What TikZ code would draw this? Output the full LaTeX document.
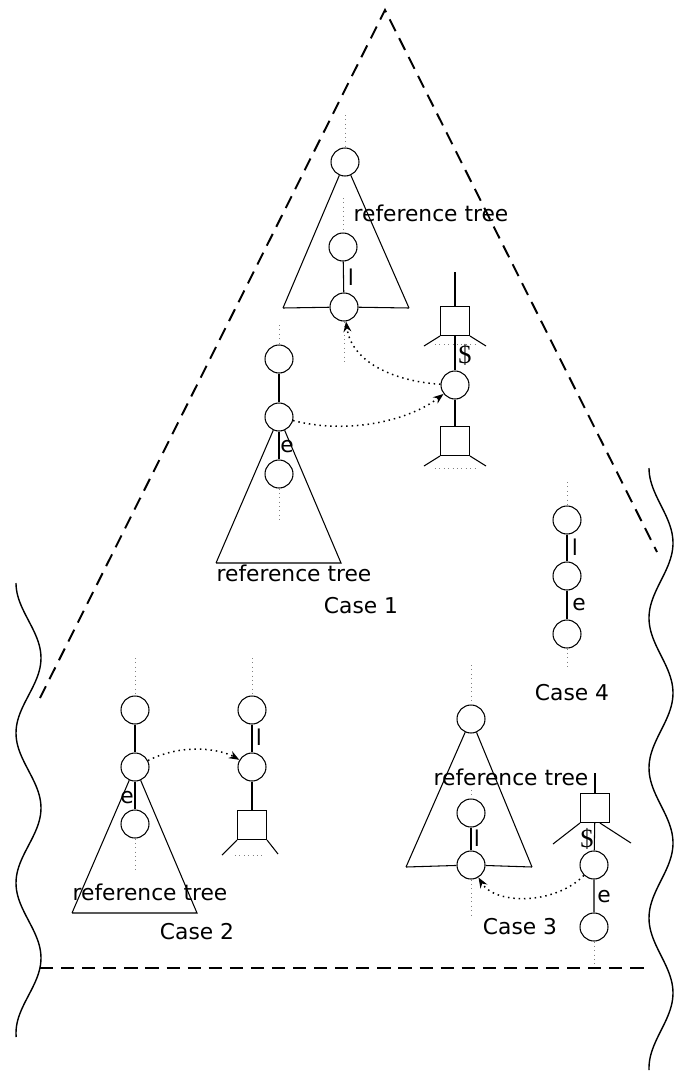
\documentclass[tikz,border=0pt]{standalone}
\usepackage{fontspec}
\setmainfont{DejaVu Sans}
\newfontfamily\dollarfont{Liberation Serif}
\usetikzlibrary{arrows.meta,positioning}

\begin{document}
\begin{tikzpicture}[x=0.02cm,y=-0.02cm,
	vert/.style={circle,draw,line width=0.6pt,minimum size=0.56cm,inner sep=0pt},
	leaf/.style={rectangle,draw,line width=0.6pt,minimum size=0.58cm,inner sep=0pt},
	link/.style={line width=0.6pt},
	guide/.style={line width=0.45pt,gray,dash pattern=on 0.5pt off 2pt},
	ptr/.style={line width=0.85pt,dash pattern=on 0.85pt off 2.2pt,-{Stealth[length=6pt,width=4.5pt]}},
	hull/.style={line width=1.1pt,dash pattern=on 7.5pt off 4.5pt},
	wave/.style={line width=0.8pt},
	dol/.style={font=\dollarfont\fontsize{15}{17}\selectfont}]
	\tikzstyle{every node}=[font=\fontsize{12.4}{15}\selectfont]
	\useasboundingbox (0,0) rectangle (687,1072);
	% outer frame
	\draw [hull] (40,698) -- (385,10) -- (657,552);
	\draw [hull] (40,968) -- (650,968);
	\draw [wave] plot[domain=583:1037,samples=140,smooth] ({28.5-12.5*cos(2.4*(\x-583))},\x);
	\draw [wave] plot[domain=468:1070,samples=180,smooth] ({661-12*cos(2.4*(\x-468))},\x);
	% Case 1: upper reference tree
	\node [vert] (A) at (345,162) {};
	\node [vert] (B) at (343,247) {};
	\node [vert] (C) at (344,307) {};
	\draw [link] (283,308) -- (A) -- (409,308);
	\draw [link] (283,308) -- (C) -- (409,308);
	\draw [link] (B) -- (C);
	\draw [guide] (345,115) -- (A);
	\draw [guide] (343,198) -- (B);
	\draw [guide] (C) -- (344,362);
	\node (lblA) at (351,277) {l};
	\node (refA) at (431,213) {reference tree};
	% Case 1: lower reference tree
	\node [vert] (D) at (279,359) {};
	\node [vert] (E) at (279,417) {};
	\node [vert] (F) at (279,474) {};
	\draw [link] (216,563) -- (E) -- (341,563) -- (216,563);
	\draw [link] (D) -- (E) -- (F);
	\draw [guide] (279,325) -- (D);
	\draw [guide] (F) -- (279,520);
	\node (lblE) at (287,447) {e};
	\node (refE) at (294,573) {reference tree};
	% Case 1: $ chain
	\node [leaf] (Q1) at (455,321) {};
	\node [vert] (G) at (455,385) {};
	\node [leaf] (Q2) at (455,441) {};
	\draw [link] (Q1.north) -- ++(0,-34);
	\draw [link] (Q1) -- (G) -- (Q2);
	\draw [link] (Q1.south west) -- ++(-16,10);
	\draw [link] (Q1.south east) -- ++(16,10);
	\draw [guide] (Q1.south west) ++(-5,8) -- ++(40,0);
	\draw [link] (Q2.south west) -- ++(-16,10);
	\draw [link] (Q2.south east) -- ++(16,10);
	\draw [guide] (Q2.south west) ++(-5,12) -- ++(40,0);
	\node [dol] (dolG) at (465,355) {\$};
	\draw [ptr] (G) .. controls (400,382) and (352,365) .. (C);
	\draw [ptr] (E) .. controls (350,435) and (410,420) .. (G);
	\node (case1) at (361,606) {Case 1};
	% Case 2
	\node [vert] (H) at (135,710) {};
	\node [vert] (I) at (135,767) {};
	\node [vert] (J) at (135,824) {};
	\draw [link] (72,913) -- (I) -- (197,913) -- (72,913);
	\draw [link] (H) -- (I) -- (J);
	\draw [guide] (135,658) -- (H);
	\draw [guide] (J) -- (135,872);
	\node (lblI) at (127,798) {e};
	\node (refI) at (150,892) {reference tree};
	\node [vert] (K) at (252,710) {};
	\node [vert] (L) at (252,767) {};
	\node [leaf] (Q3) at (252,825) {};
	\draw [link] (K) -- (L) -- (Q3);
	\draw [guide] (252,658) -- (K);
	\draw [link] (Q3.south west) -- ++(-15,15);
	\draw [link] (Q3.south east) -- ++(11,14);
	\draw [guide] (Q3.south west) ++(-2,15) -- ++(27,0);
	\node (lblK) at (259,737) {l};
	\draw [ptr] (I) .. controls (185,742) and (222,750) .. (L);
	\node (case2) at (197,932) {Case 2};
	% Case 3
	\node [vert] (M) at (471,719) {};
	\node [vert] (N) at (471,813) {};
	\node [vert] (O) at (471,865) {};
	\draw [link] (406,867) -- (M) -- (532,867);
	\draw [link] (406,867) -- (O) -- (532,867);
	\draw [link] (N) -- (O);
	\draw [guide] (471,665) -- (M);
	\draw [guide] (471,790) -- (N);
	\draw [guide] (O) -- (471,917);
	\node (lblN) at (477,838) {l};
	\node (refM) at (511,777) {reference tree};
	\node [leaf] (Q4) at (595,808) {};
	\node [vert] (P) at (594,865) {};
	\node [vert] (Q) at (594,927) {};
	\draw [link] (Q4.north) -- ++(0,-20);
	\draw [link] (Q4) -- (P) -- (Q);
	\draw [link] (Q4.south west) -- ++(-27,21);
	\draw [link] (Q4.south west) ++(20,0) -- ++(31,20);
	\draw [guide] (Q) -- (594,965);
	\node [dol] (dolP) at (587,839) {\$};
	\node (lblP) at (604,897) {e};
	\draw [ptr] (P) .. controls (555,905) and (495,905) .. (O);
	\node (case3) at (520,927) {Case 3};
	% Case 4
	\node [vert] (R) at (567,520) {};
	\node [vert] (S) at (567,576) {};
	\node [vert] (T) at (567,634) {};
	\draw [link] (R) -- (S) -- (T);
	\draw [guide] (567,482) -- (R);
	\draw [guide] (T) -- (567,668);
	\node (lblR) at (575,547) {l};
	\node (lblS) at (579,605) {e};
	\node (case4) at (572,693) {Case 4};
\end{tikzpicture}
\end{document}
